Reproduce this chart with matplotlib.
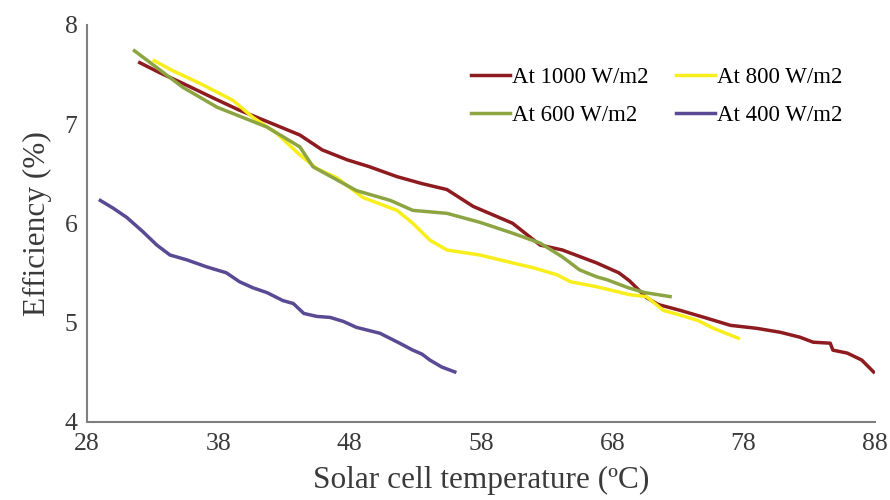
import numpy as np
import matplotlib.pyplot as plt

plt.rcParams['font.family'] = ['Liberation Serif', 'DejaVu Serif']

# efficiency (%) vs. cell temperature (degC) at each irradiance
t_1000 = [32.0, 33.5, 35.3, 37.5, 39.6, 42.0, 44.2, 45.9, 47.8, 49.5, 51.6, 53.5, 55.4, 57.4,
          60.4, 62.5, 64.2, 66.8, 68.5, 69.3, 70.6, 71.5, 73.2, 75.0, 77.0, 79.0, 80.8, 82.3,
          83.3, 84.6, 84.8, 85.9, 87.0, 87.9]
e_1000 = [7.62, 7.52, 7.41, 7.27, 7.14, 7.01, 6.89, 6.74, 6.64, 6.57, 6.47, 6.40, 6.34, 6.17,
          6.00, 5.78, 5.73, 5.60, 5.50, 5.42, 5.25, 5.18, 5.12, 5.05, 4.97, 4.94, 4.90, 4.85,
          4.80, 4.79, 4.72, 4.69, 4.62, 4.50]

t_800 = [33.1, 34.5, 36.6, 39.1, 40.6, 42.4, 44.2, 45.5, 47.0, 49.0, 51.6, 52.8, 54.1, 55.4,
         57.9, 60.4, 62.0, 63.8, 64.8, 66.8, 69.3, 70.6, 71.9, 73.0, 74.5, 75.7, 77.6]
e_800 = [7.64, 7.54, 7.41, 7.24, 7.07, 6.91, 6.69, 6.55, 6.46, 6.26, 6.13, 6.00, 5.83, 5.73,
         5.68, 5.60, 5.55, 5.48, 5.41, 5.36, 5.28, 5.26, 5.12, 5.08, 5.02, 4.94, 4.84]

t_600 = [31.6, 33.5, 35.3, 37.9, 41.7, 44.2, 45.2, 48.5, 51.1, 52.8, 55.4, 57.9, 60.4, 62.5,
         64.2, 65.5, 66.8, 67.6, 69.2, 70.5, 72.4]
e_600 = [7.74, 7.55, 7.37, 7.17, 6.97, 6.77, 6.57, 6.33, 6.23, 6.13, 6.10, 6.01, 5.90, 5.80,
         5.66, 5.53, 5.46, 5.43, 5.35, 5.30, 5.26]

t_400 = [29.0, 30.0, 31.0, 32.2, 33.3, 34.3, 35.6, 37.1, 38.6, 39.6, 40.6, 41.7, 42.9, 43.7,
         44.5, 45.5, 46.5, 47.5, 48.5, 50.3, 51.8, 52.8, 53.5, 54.1, 55.0, 56.0]
e_400 = [6.23, 6.15, 6.06, 5.92, 5.78, 5.68, 5.63, 5.56, 5.50, 5.41, 5.35, 5.30, 5.22, 5.19,
         5.09, 5.06, 5.05, 5.01, 4.95, 4.89, 4.79, 4.72, 4.68, 4.62, 4.55, 4.50]

x_ticks = [28, 38, 48, 58, 68, 78, 88]
y_ticks = [4, 5, 6, 7, 8]

fig = plt.figure(figsize=(8.9, 5), dpi=100)
ax = fig.add_axes([0.098, 0.157, 0.885, 0.793])

lw = 2.5
l1, = ax.plot(t_1000, e_1000, color='#8e1b1f', lw=lw, label='At 1000 W/m2')
l2, = ax.plot(t_800, e_800, color='#f7ee1c', lw=lw, label='At 800 W/m2')
l3, = ax.plot(t_600, e_600, color='#8ca542', lw=lw, label='At 600 W/m2')
l4, = ax.plot(t_400, e_400, color='#5a4a94', lw=lw, label='At 400 W/m2')

ax.set_xlim(28, 88)
ax.set_ylim(4, 8)
ax.set_xticks(x_ticks)
ax.set_yticks(y_ticks)
ax.tick_params(length=0, labelsize=18.5, colors='#3a3a3a')
ax.tick_params(axis='x', pad=8)
ax.tick_params(axis='y', pad=7)

for s in ['top', 'right']:
    ax.spines[s].set_visible(False)
for s in ['left', 'bottom']:
    ax.spines[s].set_color('#7f7f7f')
    ax.spines[s].set_linewidth(1.5)

ax.set_xlabel('Solar cell temperature (ºC)', fontsize=22.5, color='#3a3a3a', labelpad=8)
ax.set_ylabel('Efficiency (%)', fontsize=22.5, color='#3a3a3a', labelpad=9)

ax.legend(handles=[l1, l3, l2, l4], ncol=2, frameon=False, fontsize=16.5,
          loc='upper right', bbox_to_anchor=(0.985, 0.945), handlelength=1.7,
          handletextpad=0.1, columnspacing=1.2, labelspacing=0.7)

fig.savefig('out.png', dpi=100)
